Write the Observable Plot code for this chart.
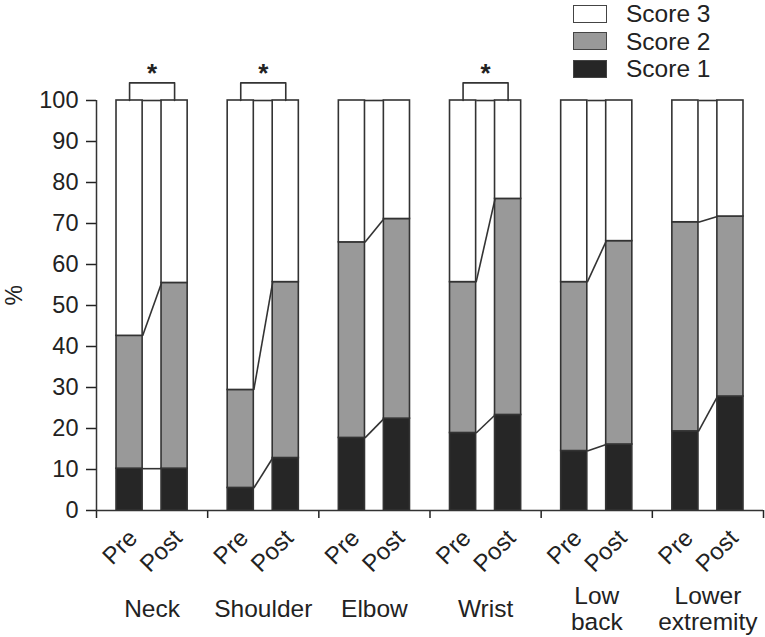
<!DOCTYPE html>
<html>
<head>
<meta charset="utf-8">
<script src="https://cdn.jsdelivr.net/npm/d3@7"></script>
<script src="https://cdn.jsdelivr.net/npm/@observablehq/plot@0.6"></script>
<style>
  body { margin: 0; background: #fff; }
  #wrap { position: relative; width: 765px; height: 637px; font-family: "Liberation Sans", Arial, sans-serif; color: #222; }
  #legend { position: absolute; left: 573px; top: 0px; }
  .row { display: flex; align-items: center; height: 27.5px; }
  .box { width: 32px; height: 16px; border: 1.5px solid #444; margin-right: 19px; }
  .lab { font-size: 24.5px; line-height: 27px; }
</style>
</head>
<body>
<div id="wrap">
  <div id="chart"></div>
  <div id="legend"></div>
</div>
<script>
// ---- data ----
const groups = ["Neck", "Shoulder", "Elbow", "Wrist", "Low\nback", "Lower\nextremity"];
const phases = ["Pre", "Post"];
const score1Pre  = [10.2, 5.5, 17.7, 18.9, 14.5, 19.3];
const score2Pre  = [32.4, 23.9, 47.7, 36.8, 41.2, 51.0];
const score1Post = [10.2, 12.8, 22.4, 23.3, 16.1, 27.8];
const score2Post = [45.3, 42.9, 48.7, 52.7, 49.6, 43.9];
const significant = ["Neck", "Shoulder", "Wrist"];
const scoreNames = ["Score 1", "Score 2", "Score 3"];
const scoreColors = ["#262626", "#999999", "#ffffff"];
const legendOrder = ["Score 3", "Score 2", "Score 1"];
const yTicks = [0, 10, 20, 30, 40, 50, 60, 70, 80, 90, 100];

// ---- layout (in group units) ----
const barOffset = {Pre: 0.18, Post: 0.585};
const barWidth = 0.235;
const bracketRise = 4.3;
const stroke = "#333";
const sw = 1.6;

const bars = [];
const links = [];
const labels = [];
const brackets = [];
const stars = [];
groups.forEach((g, i) => {
  const levels = {};
  phases.forEach(p => {
    const s1 = p === "Pre" ? score1Pre[i] : score1Post[i];
    const s2 = p === "Pre" ? score2Pre[i] : score2Post[i];
    const vals = [s1, s2, 100 - s1 - s2];
    let c = 0;
    const x1 = i + barOffset[p], x2 = x1 + barWidth;
    levels[p] = [];
    vals.forEach((v, k) => {
      bars.push({group: g, phase: p, score: scoreNames[k], fill: scoreColors[k], x1, x2, y1: c, y2: c + v});
      c += v;
      levels[p].push(c);
    });
    labels.push({phase: p, x: (x1 + x2) / 2, y: 0});
  });
  const preRight = i + barOffset.Pre + barWidth;
  const postLeft = i + barOffset.Post;
  levels.Pre.forEach((v, k) => links.push({x1: preRight, x2: postLeft, y1: v, y2: levels.Post[k]}));
  if (significant.includes(g)) {
    const a = i + barOffset.Pre + barWidth / 2;
    const b = i + barOffset.Post + barWidth / 2;
    const top = 100 + bracketRise;
    [[a, 100], [a, top], [b, top], [b, 100]].forEach(([x, y]) => brackets.push({group: g, x, y}));
    stars.push({x: (a + b) / 2, y: top});
  }
});
const groupLabels = groups.map((g, i) => ({label: g, x: i + 0.5, y: 0}));

const chart = Plot.plot({
  width: 765,
  height: 637,
  marginLeft: 96,
  marginRight: 2,
  marginTop: 100,
  marginBottom: 127,
  style: {fontFamily: "Liberation Sans, Arial, sans-serif", fontSize: "23.5px", color: "#222", background: "white"},
  x: {type: "linear", domain: [0, groups.length]},
  y: {domain: [0, 100]},
  marks: [
    Plot.rect(bars, {x1: "x1", x2: "x2", y1: "y1", y2: "y2", fill: "fill", stroke, strokeWidth: sw}),
    Plot.link(links, {x1: "x1", x2: "x2", y1: "y1", y2: "y2", stroke, strokeWidth: sw}),
    Plot.line(brackets, {x: "x", y: "y", z: "group", stroke, strokeWidth: sw}),
    Plot.text(stars, {x: "x", y: "y", text: () => "*", lineAnchor: "bottom", dy: -1, fontSize: 26, fontWeight: "bold", fill: "#222"}),
    Plot.axisY({ticks: yTicks, tickSize: 10, tickPadding: 8, strokeWidth: 1.5, label: null, fontSize: 23.5}),
    Plot.axisX({ticks: d3.range(groups.length + 1), tickSize: 8, tickFormat: () => "", strokeWidth: 1.5, label: null}),
    Plot.ruleX([0], {y1: 0, y2: 100, stroke, strokeWidth: 1.5}),
    Plot.ruleY([0], {x1: 0, x2: groups.length, stroke, strokeWidth: 1.5}),
    Plot.text(labels, {x: "x", y: "y", text: "phase", rotate: -45, textAnchor: "end", lineAnchor: "bottom", dx: 9, dy: 29, fontSize: 24, fill: "#222"}),
    Plot.text(groupLabels, {x: "x", y: "y", text: "label", lineAnchor: "middle", lineHeight: 1.05, dy: 98, fontSize: 24.5, fill: "#222"}),
    Plot.text(["%"], {frameAnchor: "left", text: d => d, rotate: -90, dx: -82, fontSize: 23, fill: "#222"})
  ]
});
document.getElementById("chart").appendChild(chart);

const legend = document.getElementById("legend");
legendOrder.forEach(name => {
  const row = document.createElement("div");
  row.className = "row";
  const box = document.createElement("div");
  box.className = "box";
  box.style.background = scoreColors[scoreNames.indexOf(name)];
  const lab = document.createElement("span");
  lab.className = "lab";
  lab.textContent = name;
  row.appendChild(box);
  row.appendChild(lab);
  legend.appendChild(row);
});
</script>
</body>
</html>
